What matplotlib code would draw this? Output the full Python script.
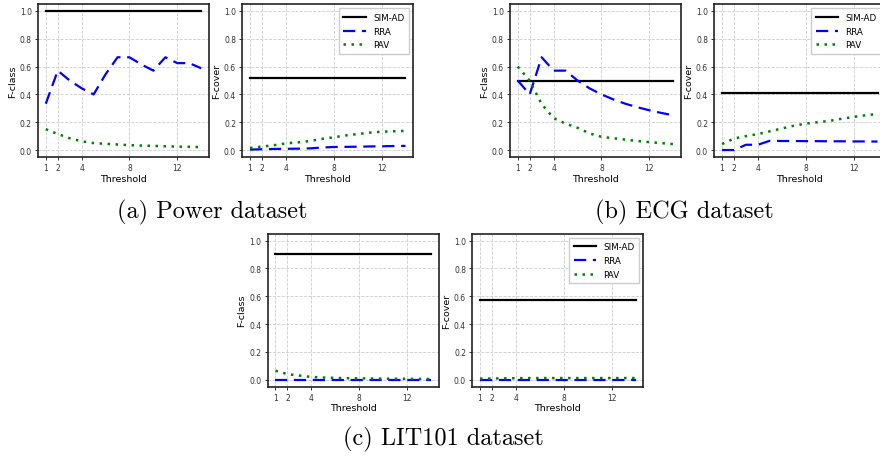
import matplotlib
matplotlib.use("Agg")
from matplotlib import pyplot as plt

# thresholds used on every x axis
threshold = list(range(1, 15))

# Power dataset
power_class_simad = [1.0] * 14
power_class_rra = [0.333, 0.571, 0.5, 0.444, 0.4, 0.545, 0.667, 0.667, 0.615, 0.571, 0.667, 0.625, 0.625, 0.588]
power_class_pav = [0.15, 0.115, 0.085, 0.063, 0.05, 0.045, 0.04, 0.035, 0.032, 0.03, 0.027, 0.025, 0.023, 0.021]
power_cover_simad = [0.52] * 14
power_cover_rra = [0.003, 0.006, 0.008, 0.009, 0.01, 0.012, 0.018, 0.022, 0.023, 0.024, 0.026, 0.027, 0.029, 0.03]
power_cover_pav = [0.015, 0.025, 0.035, 0.048, 0.055, 0.065, 0.08, 0.092, 0.105, 0.115, 0.125, 0.132, 0.135, 0.138]

# ECG dataset
ecg_class_simad = [0.5] * 14
ecg_class_rra = [0.5, 0.4, 0.667, 0.571, 0.571, 0.5, 0.444, 0.4, 0.364, 0.333, 0.308, 0.286, 0.267, 0.25]
ecg_class_pav = [0.6, 0.5, 0.33, 0.23, 0.19, 0.16, 0.12, 0.095, 0.085, 0.075, 0.065, 0.057, 0.05, 0.043]
ecg_cover_simad = [0.412] * 14
ecg_cover_rra = [0.0, 0.0, 0.038, 0.038, 0.067, 0.065, 0.065, 0.064, 0.064, 0.063, 0.063, 0.062, 0.062, 0.061]
ecg_cover_pav = [0.043, 0.083, 0.1, 0.115, 0.135, 0.155, 0.175, 0.19, 0.2, 0.21, 0.225, 0.238, 0.25, 0.26]

# LIT101 dataset
lit_class_simad = [0.906] * 14
lit_class_rra = [0.0] * 14
lit_class_pav = [0.065, 0.04, 0.03, 0.02, 0.016, 0.013, 0.011, 0.01, 0.009, 0.008, 0.007, 0.006, 0.006, 0.005]
lit_cover_simad = [0.573] * 14
lit_cover_rra = [0.0] * 14
lit_cover_pav = [0.008, 0.009, 0.01, 0.011, 0.012, 0.012, 0.012, 0.012, 0.012, 0.012, 0.012, 0.012, 0.012, 0.012]

xticks = [1, 2, 4, 8, 12]
yticks = [0.0, 0.2, 0.4, 0.6, 0.8, 1.0]


def draw_panel(ax, simad, rra, pav, ylabel, legend=False):
    ax.plot(threshold, simad, color="black", lw=1.6, label="SIM-AD")
    ax.plot(threshold, rra, color="blue", lw=1.6, ls=(0, (5.5, 3)), label="RRA")
    ax.plot(threshold, pav, color="green", lw=1.8, ls=(0, (1, 2.2)), label="PAV")
    ax.set_ylim(-0.05, 1.05)
    ax.set_xticks(xticks)
    ax.set_yticks(yticks)
    ax.grid(True, ls="--", color="#cccccc", lw=0.6)
    ax.tick_params(labelsize=5.5, length=2.5, width=0.7, pad=2, colors="#333333")
    ax.set_xlabel("Threshold", fontsize=6.8, labelpad=1)
    ax.set_ylabel(ylabel, fontsize=6.8, labelpad=2)
    for s in ax.spines.values():
        s.set_linewidth(1.2)
        s.set_color("#222222")
    if legend:
        ax.legend(loc="upper right", fontsize=6.3, handlelength=2.6,
                  framealpha=1, edgecolor="#cccccc", fancybox=False,
                  borderpad=0.5, labelspacing=0.55)


fig = plt.figure(figsize=(8.8, 4.6), dpi=100)

w, h = 0.1943, 0.3326
ax1 = fig.add_axes([0.0432, 0.6565, w, h])
ax2 = fig.add_axes([0.2753, 0.6565, w, h])
ax3 = fig.add_axes([0.5795, 0.6565, w, h])
ax4 = fig.add_axes([0.8117, 0.6565, w, h])
ax5 = fig.add_axes([0.3042, 0.1572, w, h])
ax6 = fig.add_axes([0.5367, 0.1572, w, h])

draw_panel(ax1, power_class_simad, power_class_rra, power_class_pav, "F-class")
draw_panel(ax2, power_cover_simad, power_cover_rra, power_cover_pav, "F-cover", legend=True)
draw_panel(ax3, ecg_class_simad, ecg_class_rra, ecg_class_pav, "F-class")
draw_panel(ax4, ecg_cover_simad, ecg_cover_rra, ecg_cover_pav, "F-cover", legend=True)
draw_panel(ax5, lit_class_simad, lit_class_rra, lit_class_pav, "F-class")
draw_panel(ax6, lit_cover_simad, lit_cover_rra, lit_cover_pav, "F-cover", legend=True)

cap = dict(family="cmr10", fontsize=17.5, ha="center", va="center")
fig.text(212.7 / 880, 1 - 212 / 460, "(a) Power dataset", **cap)
fig.text(684.5 / 880, 1 - 212 / 460, "(b) ECG dataset", **cap)
fig.text(443 / 880, 1 - 439 / 460, "(c) LIT101 dataset", **cap)

fig.savefig("out.png", dpi=100)
